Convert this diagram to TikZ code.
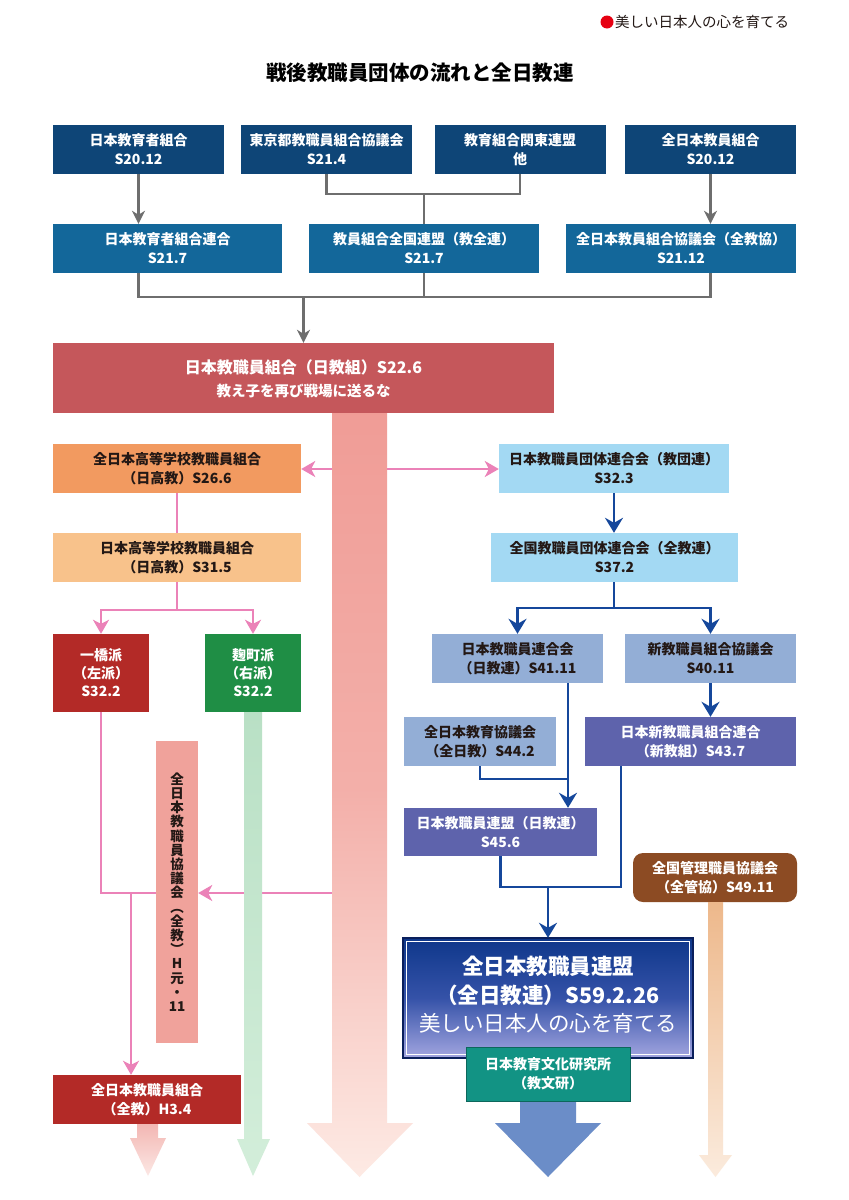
\documentclass[tikz,border=0pt]{standalone}
\usepackage{fontspec}
\setmainfont{Noto Sans CJK JP}
\usetikzlibrary{arrows.meta,calc}
\definecolor{navyA}{HTML}{0E4577}
\definecolor{navyB}{HTML}{13679A}
\definecolor{grayline}{HTML}{6E6E6E}
\definecolor{mainred}{HTML}{C5575B}
\definecolor{shafttop}{HTML}{F09C96}
\definecolor{shaftbot}{HTML}{FDEAE4}
\definecolor{orangeA}{HTML}{F29A60}
\definecolor{orangeB}{HTML}{F8C28B}
\definecolor{pinkline}{HTML}{EB82B8}
\definecolor{dred}{HTML}{B32A27}
\definecolor{dgreen}{HTML}{1F8E45}
\definecolor{greenA}{HTML}{B9E0C5}
\definecolor{greenB}{HTML}{D3EEDA}
\definecolor{vpink}{HTML}{F0A29B}
\definecolor{lblue}{HTML}{A3D9F3}
\definecolor{sblue}{HTML}{93AED6}
\definecolor{purp}{HTML}{5E63AC}
\definecolor{blueline}{HTML}{15479B}
\definecolor{teal}{HTML}{129384}
\definecolor{brown}{HTML}{8C4B23}
\definecolor{barrow}{HTML}{6B8DC8}
\definecolor{zentop}{HTML}{0E378A}
\definecolor{zenmid}{HTML}{3552A8}
\definecolor{zenbot}{HTML}{A3A6E0}
\definecolor{zenedge}{HTML}{0A1F5C}
\definecolor{txtdark}{HTML}{231815}
\definecolor{pkA}{HTML}{F2B3AF}
\definecolor{pkB}{HTML}{FCE8E5}
\definecolor{orA}{HTML}{EDB88B}
\definecolor{orB}{HTML}{FBEBDD}
\definecolor{hdred}{HTML}{E60012}
\begin{document}
\begin{tikzpicture}[x=1pt,y=-1pt,
 box/.style={inner sep=0pt, align=center, text=white, font=\fontsize{14}{19}\selectfont\bfseries},
 dbox/.style={box, text=txtdark},
 gline/.style={draw=grayline, line width=2.4pt},
 pline/.style={draw=pinkline, line width=2pt},
 bline/.style={draw=blueline, line width=2.4pt},
 garr/.style={-{Stealth[length=13pt,width=13pt,inset=4pt]}},
 parr/.style={-{Stealth[length=14pt,width=16pt,inset=4pt]}},
 barr/.style={-{Stealth[length=15pt,width=18pt,inset=5pt]}}
]
\useasboundingbox (0,0) rectangle (849,1200);
\fill[white] (0,0) rectangle (849,1200);

% header and title
\fill[hdred] (607,22) circle (6.5);
\node[anchor=west, inner sep=0pt, font=\fontsize{14.5}{16}\selectfont, text=txtdark] (hdr) at (615,22) {美しい日本人の心を育てる};
\node[inner sep=0pt, font=\fontsize{20.5}{22}\selectfont\bfseries, text=black] (title) at (420,73) {戦後教職員団体の流れと全日教連};

% row 1
\node[box, fill=navyA, minimum width=171pt, minimum height=49pt] (A) at (138.5,149.5) {日本教育者組合\\S20.12};
\node[box, fill=navyA, minimum width=171pt, minimum height=49pt] (B) at (326.5,149.5) {東京都教職員組合協議会\\S21.4};
\node[box, fill=navyA, minimum width=171pt, minimum height=49pt] (C) at (520,149.5) {教育組合関東連盟\\他};
\node[box, fill=navyA, minimum width=171pt, minimum height=49pt] (D) at (710.5,149.5) {全日本教員組合\\S20.12};
% row 2
\node[box, fill=navyB, minimum width=229pt, minimum height=49pt] (E) at (167.5,248.5) {日本教育者組合連合\\S21.7};
\node[box, fill=navyB, minimum width=230pt, minimum height=49pt] (F) at (424,248.5) {教員組合全国連盟（教全連）\\S21.7};
\node[box, fill=navyB, minimum width=230pt, minimum height=49pt] (G) at (681,248.5) {全日本教員組合協議会（全教協）\\S21.12};

% gray connectors
\coordinate (jBC) at (424,194);
\coordinate (j2) at (303.5,297);
\draw[gline, garr] (A.south) -- (A.south |- E.north);
\draw[gline, garr] (D.south) -- (D.south |- G.north);
\draw[gline] (B.south) |- (jBC) -| (C.south);
\draw[gline] (jBC) -- (F.north);
\draw[gline] (A.south |- E.south) -- (A.south |- j2) -- (D.south |- j2) -- (D.south |- G.south);
\draw[gline] (F.south) -- (F.south |- j2);

% big pink shaft
\shade[top color=shafttop, bottom color=shaftbot, middle color=shafttop!75!shaftbot]
  (332,405) -- (387,405) -- (387,1123) -- (413,1123) -- (359.5,1177) -- (307,1123) -- (332,1123) -- cycle;

% main box
\node[box, fill=mainred, minimum width=501pt, minimum height=70pt] (main) at (303.5,378) {};
\node[inner sep=0pt, font=\fontsize{16}{18}\selectfont\bfseries, text=white] (maintext1) at (303.5,367) {日本教職員組合（日教組）S22.6};
\node[inner sep=0pt, font=\fontsize{14.5}{16}\selectfont\bfseries, text=white] (maintext2) at (303.5,391) {教え子を再び戦場に送るな};
\draw[gline, garr] (j2) -- (main.north);

% left side
\node[dbox, fill=orangeA, minimum width=248pt, minimum height=49pt] (nk26) at (177,468.5) {全日本高等学校教職員組合\\（日高教）S26.6};
\node[dbox, fill=orangeB, minimum width=248pt, minimum height=49pt] (nk31) at (177,557.5) {日本高等学校教職員組合\\（日高教）S31.5};
\node[box, fill=dred, minimum width=96pt, minimum height=78pt, font=\fontsize{14}{18}\selectfont\bfseries] (hitotsu) at (101,673) {一橋派\\（左派）\\S32.2};
\node[box, fill=dgreen, minimum width=96pt, minimum height=78pt, font=\fontsize{14}{18}\selectfont\bfseries] (koji) at (253,673) {麹町派\\（右派）\\S32.2};

\coordinate (sL1) at (332,469);
\coordinate (sR1) at (387,469);
\coordinate (jL) at (177,610);
\coordinate (jH) at (101,893);
\coordinate (jD) at (131,893);
\coordinate (sL2) at (332,893);

\draw[pline, parr] (sL1) -- (nk26.east |- sL1);
\draw[pline] (nk26.south) -- (nk31.north);
\draw[pline] (nk31.south) -- (jL);
\draw[pline, parr] (jL) -| (hitotsu.north);
\draw[pline, parr] (jL) -| (koji.north);

% vertical box and 全教
\node[dbox, fill=vpink, minimum width=42pt, minimum height=302pt, font=\fontsize{13.5}{14.2}\selectfont\bfseries] (zenkyogi) at (177,892)
  {全\\日\\本\\教\\職\\員\\協\\議\\会\\︵\\全\\教\\︶\\H\\元\\・\\11};
\draw[pline] (hitotsu.south) -- (jH) -- (zenkyogi.west |- jH);
\draw[pline, parr] (sL2) -- (zenkyogi.east |- sL2);

% green shaft
\shade[top color=greenA, bottom color=greenB]
  (244,712) -- (262,712) -- (262,1139) -- (270,1139) -- (253,1176) -- (237,1139) -- (244,1139) -- cycle;

% pale pink arrow under 全教
\shade[top color=pkA, bottom color=pkB]
  (137,1120) -- (158,1120) -- (158,1138) -- (166,1138) -- (148,1176) -- (130,1138) -- (137,1138) -- cycle;
\node[box, fill=dred, minimum width=188pt, minimum height=49pt] (zenkyo) at (147,1099.5) {全日本教職員組合\\（全教）H3.4};
\draw[pline, parr] (jD) -- (jD |- zenkyo.north);

% right side
\node[dbox, fill=lblue, minimum width=230pt, minimum height=49pt] (kyodan) at (614,468.5) {日本教職員団体連合会（教団連）\\S32.3};
\draw[pline, parr] (sR1) -- (kyodan.west |- sR1);
\node[dbox, fill=lblue, minimum width=247pt, minimum height=49pt] (zenkyoren) at (614.5,557.5) {全国教職員団体連合会（全教連）\\S37.2};
\node[dbox, fill=sblue, minimum width=171pt, minimum height=49pt] (nikkyorenkai) at (517.5,658.5) {日本教職員連合会\\（日教連）S41.11};
\node[dbox, fill=sblue, minimum width=171pt, minimum height=49pt] (shinkyo) at (710.5,658.5) {新教職員組合協議会\\S40.11};
\node[box, fill=purp, minimum width=211pt, minimum height=49pt] (shinkyoso) at (690.5,741.5) {日本新教職員組合連合\\（新教組）S43.7};
\node[dbox, fill=sblue, minimum width=152pt, minimum height=49pt] (zennikkyo) at (480,741.5) {全日本教育協議会\\（全日教）S44.2};
\node[box, fill=purp, minimum width=193pt, minimum height=48pt] (nikkyomei) at (500.5,832) {日本教職員連盟（日教連）\\S45.6};
\node[box, fill=brown, rounded corners=10pt, minimum width=164pt, minimum height=49pt] (kanri) at (715,877.5) {全国管理職員協議会\\（全管協）S49.11};

\coordinate (jR) at (614,608);
\coordinate (jN) at (568,779);
\coordinate (jM) at (548,887);

\draw[bline, barr] (kyodan.south -| jR) -- (zenkyoren.north -| jR);
\draw[bline] (zenkyoren.south -| jR) -- (jR);
\draw[bline, barr] (jR) -| (nikkyorenkai.north);
\draw[bline, barr] (jR) -| (shinkyo.north);
\draw[bline, barr] (shinkyo.south) -- (shinkyo.south |- shinkyoso.north);
\draw[bline, barr] (nikkyorenkai.south -| jN) -- (nikkyomei.north -| jN);
\draw[bline] (zennikkyo.south) |- (jN);
\draw[bline] (nikkyomei.south) |- (jM) -- (jM -| 621,0) -- (shinkyoso.south -| 621,0);

% orange pale arrow
\shade[top color=orA, bottom color=orB]
  (708,902) -- (723,902) -- (723,1155) -- (732,1155) -- (715.5,1177) -- (699,1155) -- (708,1155) -- cycle;

% blue big arrow
\fill[barrow] (520,1095) -- (576,1095) -- (576,1123) -- (601,1123) -- (548,1177) -- (495,1123) -- (520,1123) -- cycle;

% 全日教連 box
\node[inner sep=0pt, minimum width=290pt, minimum height=120pt] (zen) at (548,998) {};
\shade[top color=zentop, bottom color=zenbot, middle color=zenmid] (zen.north west) rectangle (zen.south east);
\draw[zenedge, line width=2pt] (zen.north west) rectangle (zen.south east);
\draw[white, line width=1.2pt] ($(zen.north west)+(4,4)$) rectangle ($(zen.south east)+(-4,-4)$);
\draw[bline, barr] (jM) -- (zen.north);
\node[inner sep=0pt, align=center, text=white, font=\fontsize{21.5}{28.5}\selectfont\bfseries] (zentext) at (548,995)
  {全日本教職員連盟\\（全日教連）S59.2.26\\{\mdseries 美しい日本人の心を育てる}};

\node[box, fill=teal, draw=teal!70!black, line width=0.8pt, minimum width=164pt, minimum height=54pt] (kyobunken) at (548,1074) {日本教育文化研究所\\（教文研）};
\end{tikzpicture}
\end{document}
